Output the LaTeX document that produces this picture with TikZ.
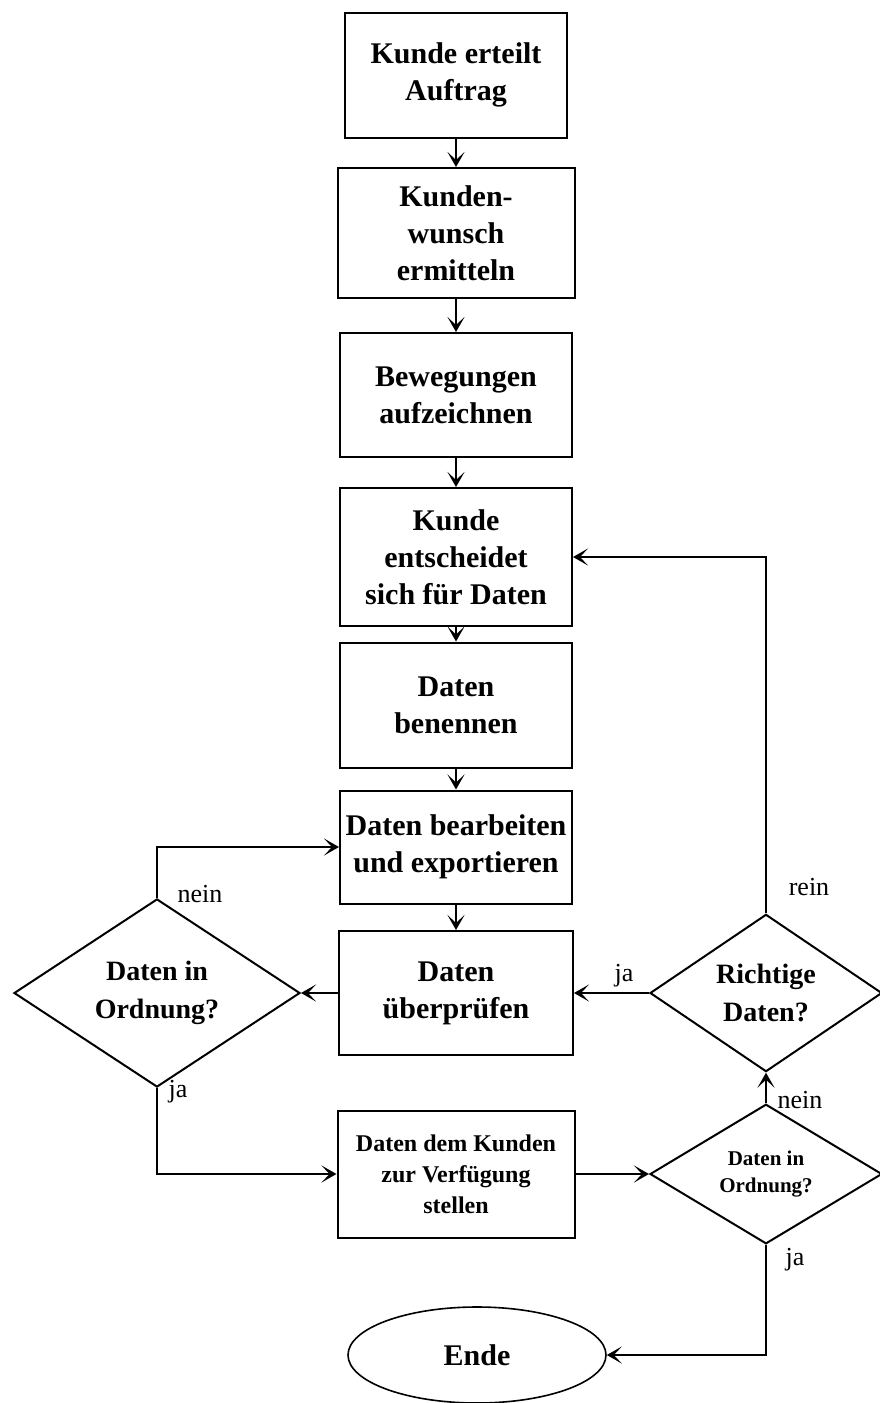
\documentclass[tikz,border=0pt]{standalone}
\usepackage{fontspec}
\setmainfont{Liberation Serif}
\usetikzlibrary{arrows.meta,positioning,shapes.geometric}
\tikzset{
  px/.style={x=1pt, y=-1pt},
  f box/.style={draw, line width=2pt, align=center, inner sep=1pt, font=\fontsize{30}{37}\selectfont\bfseries},
  f small/.style={f box, font=\fontsize{24}{31}\selectfont\bfseries},
  f dec/.style={draw, diamond, line width=2pt, inner sep=0pt, align=center, font=\fontsize{28}{38}\selectfont\bfseries},
  f dec small/.style={f dec, font=\fontsize{21}{27}\selectfont\bfseries},
  f end/.style={draw, ellipse, line width=1.6pt, inner sep=0pt, font=\fontsize{30}{37}\selectfont\bfseries},
  f lbl/.style={inner sep=0pt, font=\fontsize{26}{30}\selectfont},
  f arr/.style={line width=2pt, -{Stealth[length=15pt, width=17pt, inset=8pt]}},
}
\begin{document}
\begin{tikzpicture}[px]
\useasboundingbox (0,0) rectangle (880,1403);
% main chain
\node[f box, minimum width=222pt, minimum height=125pt] (b1) at (456,75) {Kunde erteilt\\Auftrag};
\node[f box, minimum width=237pt, minimum height=130pt] (b2) at (456,233) {Kunden-\\wunsch\\ermitteln};
\node[f box, minimum width=232pt, minimum height=124pt] (b3) at (456,395) {Bewegungen\\aufzeichnen};
\node[f box, minimum width=232pt, minimum height=138pt] (b4) at (456,557) {Kunde\\entscheidet\\sich für Daten};
\node[f box, minimum width=232pt, minimum height=125pt] (b5) at (456,705) {Daten\\benennen};
\node[f box, minimum width=232pt, minimum height=113pt] (b6) at (456,847) {Daten bearbeiten\\und exportieren};
\node[f box, minimum width=234pt, minimum height=124pt] (b7) at (456,993) {Daten\\überprüfen};
\node[f small, minimum width=237pt, minimum height=127pt] (b8) at (456,1174) {Daten dem Kunden\\zur Verfügung\\stellen};
\node[f end, minimum width=258pt, minimum height=96pt] (e) at (477,1355) {Ende};
% decisions
\node[f dec, minimum width=286pt, minimum height=158pt] (d1) at (157,993) {Daten in\\Ordnung?};
\node[f dec, minimum width=232pt, minimum height=154pt] (d2) at (766,993) {Richtige\\Daten?};
\node[f dec small, minimum width=232pt, minimum height=126pt] (d3) at (766,1174) {Daten in\\Ordnung?};
% labels
\node[f lbl] (l1) at (200,894) {nein};
\node[f lbl] (l2) at (178,1092) {ja};
\node[f lbl] (l3) at (624,976) {ja};
\node[f lbl] (l4) at (809,887) {rein};
\node[f lbl] (l5) at (800,1100) {nein};
\node[f lbl] (l6) at (795,1260) {ja};
% connectors
\draw[f arr] (b1)--(b2); \draw[f arr] (b2)--(b3); \draw[f arr] (b3)--(b4);
\draw[f arr] (b4)--(b5); \draw[f arr] (b5)--(b6); \draw[f arr] (b6)--(b7);
\draw[f arr] (b7.west)--(d1.east);
\draw[f arr] (d1.north) |- (b6.west);
\draw[f arr] (d1.south) |- (b8.west);
\draw[f arr] (d2.west)--(b7.east);
\draw[f arr] (d2.north) |- (b4.east);
\draw[f arr] (b8.east)--(d3.west);
\draw[f arr] (d3.north)--(d2.south);
\draw[f arr] (d3.south) |- (e.east);
\end{tikzpicture}
\end{document}
